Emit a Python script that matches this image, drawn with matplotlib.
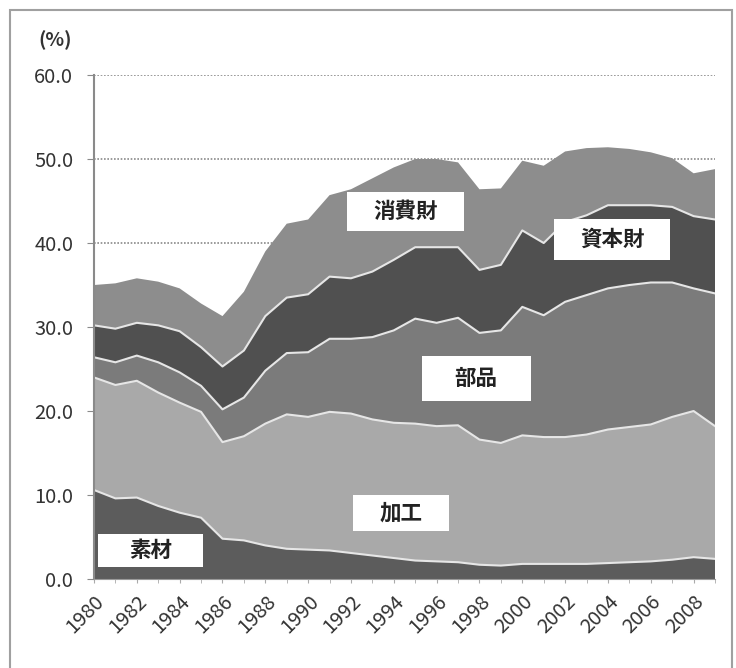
import matplotlib.pyplot as plt
from matplotlib.patches import Rectangle
import numpy as np

plt.rcParams['font.family'] = ['Noto Sans CJK JP', 'DejaVu Sans']

years = list(range(1980, 2010))

# shares by category (%), bottom to top
sozai = [10.6, 9.6, 9.7, 8.7, 7.9, 7.3, 4.8, 4.6, 4.0, 3.6, 3.5, 3.4, 3.1, 2.8, 2.5,
         2.2, 2.1, 2.0, 1.7, 1.6, 1.8, 1.8, 1.8, 1.8, 1.9, 2.0, 2.1, 2.3, 2.6, 2.4]
kakou = [13.4, 13.5, 13.9, 13.5, 13.1, 12.6, 11.5, 12.4, 14.5, 16.0, 15.8, 16.5, 16.6, 16.2, 16.1,
         16.3, 16.1, 16.3, 14.9, 14.6, 15.3, 15.1, 15.1, 15.4, 15.9, 16.1, 16.3, 17.0, 17.4, 15.8]
buhin = [2.4, 2.7, 3.0, 3.6, 3.6, 3.1, 3.9, 4.6, 6.3, 7.3, 7.7, 8.7, 8.9, 9.8, 11.0,
         12.5, 12.3, 12.8, 12.7, 13.4, 15.3, 14.5, 16.1, 16.6, 16.8, 16.9, 16.9, 16.0, 14.6, 15.8]
shihonzai = [3.8, 4.0, 3.9, 4.4, 4.9, 4.6, 5.1, 5.6, 6.5, 6.6, 6.9, 7.4, 7.2, 7.8, 8.4,
             8.5, 9.0, 8.4, 7.5, 7.8, 9.1, 8.6, 9.5, 9.5, 9.9, 9.5, 9.2, 9.0, 8.6, 8.8]
shouhizai = [4.8, 5.4, 5.3, 5.2, 5.1, 5.2, 6.0, 7.0, 7.7, 8.8, 8.9, 9.7, 10.6, 11.1, 11.0,
             10.5, 10.5, 10.1, 9.6, 9.1, 8.3, 9.2, 8.4, 8.0, 6.9, 6.7, 6.3, 5.8, 5.1, 6.0]

series = [sozai, kakou, buhin, shihonzai, shouhizai]
names = ['素材', '加工', '部品', '資本財', '消費財']
colors = ['#5c5c5c', '#a9a9a9', '#7b7b7b', '#505050', '#8d8d8d']

# label box placement (year, value) for each category
label_pos = [(1982.65, 3.4), (1994.35, 7.85), (1997.85, 23.9), (2004.2, 40.4), (1994.55, 43.75)]
label_w = [4.9, 4.5, 5.1, 5.4, 5.5]
label_h = [4.0, 4.3, 5.3, 4.8, 4.7]

fig = plt.figure(figsize=(7.36, 6.68), dpi=100)
ax = fig.add_axes([0.1277, 0.1332, 0.8438, 0.7545])

ax.set_axisbelow(True)
ax.yaxis.grid(True, color='#8a8a8a', linewidth=1.2, linestyle=(0, (1, 1)))
ax.stackplot(years, *series, colors=colors, linewidth=0)

# light boundary lines on top of each layer
cum = np.cumsum(np.array(series), axis=0)
for top in cum[:-1]:
    ax.plot(years, top, color='#e6e6e6', linewidth=1.5)

for name, (x, y), w, h in zip(names, label_pos, label_w, label_h):
    ax.add_patch(Rectangle((x - w / 2, y - h / 2), w, h, facecolor='white',
                           edgecolor='none', zorder=5))
    ax.text(x, y, name, ha='center', va='center', fontsize=15.5, color='#222222',
            fontweight='bold', zorder=6)

ax.set_xlim(1980, 2009)
ax.set_ylim(0, 60)
ax.set_yticks(np.arange(0, 61, 10))
ax.set_yticklabels([f'{v:.1f}' for v in np.arange(0, 61, 10)])
ax.set_xticks(years, minor=True)
ax.set_xticks(years[::2])
ax.set_xticklabels([str(y) for y in years[::2]], rotation=45, ha='right',
                   rotation_mode='anchor')

for side in ['top', 'right']:
    ax.spines[side].set_visible(False)
ax.spines['left'].set_color('#8a8a8a')
ax.spines['left'].set_linewidth(1.5)
ax.spines['bottom'].set_color('#9a9a9a')
ax.tick_params(axis='y', length=5, color='#8a8a8a', labelsize=14.5, labelcolor='#333333', pad=10)
ax.tick_params(axis='x', which='both', length=3, color='#aaaaaa', labelsize=14.5,
               labelcolor='#333333', pad=6)

fig.text(55 / 736, 1 - 40 / 668, '(%)', ha='center', va='center', fontsize=14,
         color='#333333', fontweight='bold')

# outer frame
fig.patches.append(Rectangle((10 / 736, -0.01), 722 / 736, 1 - 10 / 668 + 0.01,
                             transform=fig.transFigure, fill=False,
                             edgecolor='#a0a0a0', linewidth=1.5))

fig.savefig('out.png', dpi=100)
